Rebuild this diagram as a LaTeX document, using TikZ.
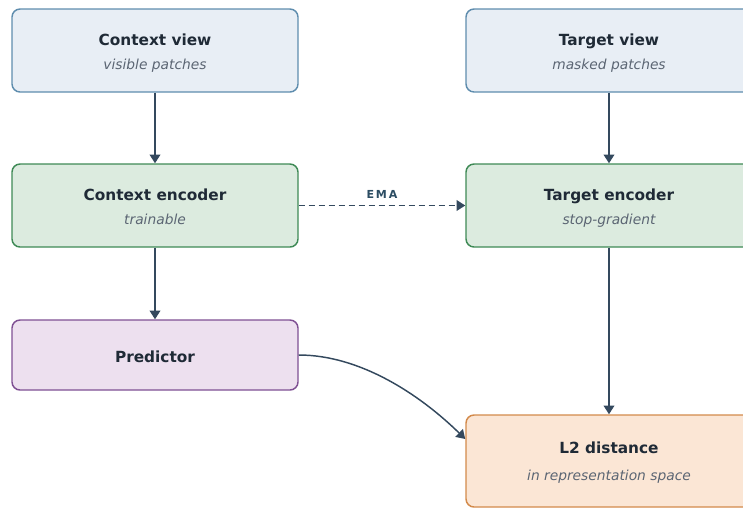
\documentclass[tikz,border=0pt]{standalone}
\usepackage{fontspec}
\setmainfont{DejaVu Sans}
\usetikzlibrary{arrows.meta}

\definecolor{inktext}{HTML}{1F2A36}
\definecolor{subtext}{HTML}{5B6573}
\definecolor{wire}{HTML}{34495E}
\definecolor{emalabel}{HTML}{2C4D63}
\definecolor{viewfill}{HTML}{E8EEF5}
\definecolor{viewline}{HTML}{5F8DAE}
\definecolor{encfill}{HTML}{DCEBDF}
\definecolor{encline}{HTML}{3F8A56}
\definecolor{predfill}{HTML}{EDE0EF}
\definecolor{predline}{HTML}{7F5093}
\definecolor{lossfill}{HTML}{FBE6D5}
\definecolor{lossline}{HTML}{D38A4B}

\tikzset{
  box/.style={draw, line width=1.1pt, rounded corners=6pt,
    minimum width=214.5pt, minimum height=62.25pt, inner sep=0pt},
  viewbox/.style={box, fill=viewfill, draw=viewline},
  encbox/.style={box, fill=encfill, draw=encline},
  predbox/.style={box, fill=predfill, draw=predline, minimum height=52.5pt},
  lossbox/.style={box, fill=lossfill, draw=lossline, minimum height=69pt},
  title/.style={anchor=base, inner sep=0pt, text=inktext,
    font=\fontsize{11.5}{14}\selectfont\bfseries},
  subtitle/.style={anchor=base, inner sep=0pt, text=subtext,
    font=\fontsize{10.35}{12}\selectfont\itshape},
  flow/.style={draw=wire, line width=1.1pt,
    -{Triangle[length=6.5pt,width=8pt]}},
  emaflow/.style={flow, dash pattern=on 4.5pt off 3pt},
}

\begin{document}
\begin{tikzpicture}[x=0.75pt, y=-0.75pt]
  \useasboundingbox (0,0) rectangle (743,508);

  % top row: the two views
  \node[viewbox] (cview) at (155,50.5) {};
  \node[title]    (cviewT) at (155,45.5) {Context view};
  \node[subtitle] (cviewS) at (155,69.5) {visible patches};
  \node[viewbox] (tview) at (609,50.5) {};
  \node[title]    (tviewT) at (609,45.5) {Target view};
  \node[subtitle] (tviewS) at (609,69.5) {masked patches};

  % encoders
  \node[encbox] (cenc) at (155,205.5) {};
  \node[title]    (cencT) at (155,200.5) {Context encoder};
  \node[subtitle] (cencS) at (155,224.5) {trainable};
  \node[encbox] (tenc) at (609,205.5) {};
  \node[title]    (tencT) at (609,200.5) {Target encoder};
  \node[subtitle] (tencS) at (609,224.5) {stop-gradient};

  % predictor and loss
  \node[predbox] (pred) at (155,355) {};
  \node[title]    (predT) at (155,362) {Predictor};
  \node[lossbox] (loss) at (609,461) {};
  \node[title]    (lossT) at (609,453) {L2 distance};
  \node[subtitle] (lossS) at (609,480) {in representation space};

  % connectors
  \draw[flow] (cview) -- (cenc);
  \draw[flow] (tview) -- (tenc);
  \draw[flow] (cenc) -- (pred);
  \draw[flow] (tenc) -- (loss);
  \draw[emaflow] (cenc) -- node[above=5pt, inner sep=0pt, text=emalabel,
      font=\fontsize{8.3}{10}\selectfont\bfseries] (emaT)
      {E\kern1.4ptM\kern1.4ptA} (tenc);
  \draw[flow] (pred.east) .. controls +(61,0) and +(-46,-45) .. ([yshift=16.5pt]loss.west);
\end{tikzpicture}
\end{document}
